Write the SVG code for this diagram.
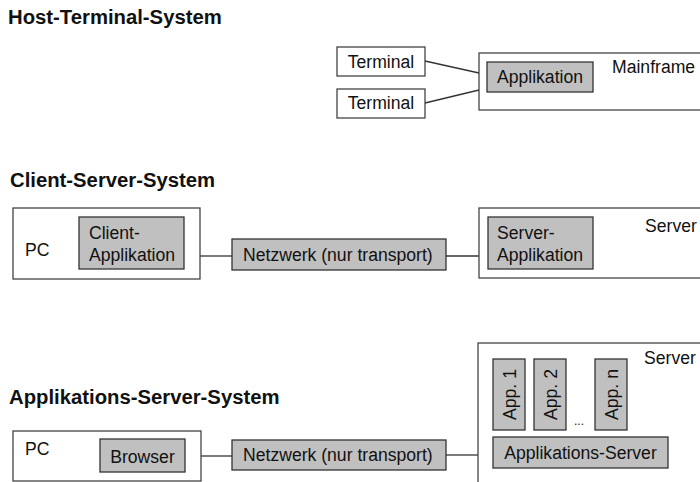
<svg xmlns="http://www.w3.org/2000/svg" width="700" height="482" viewBox="0 0 700 482">
<style>
text{font-family:"Liberation Sans",Arial,sans-serif;font-size:17.6px;fill:#111}
.title{font-weight:bold;font-size:20.3px}
.box{fill:#fff;stroke:#444;stroke-width:1.3}
.gbox{fill:#c0c0c0;stroke:#333;stroke-width:1.3}
.con{stroke:#333;stroke-width:1.3;fill:none}
.mid{text-anchor:middle}
</style>
<rect width="700" height="482" fill="#fff"/>
<text class="title" x="8" y="24">Host-Terminal-System</text>
<text class="title" x="10" y="187">Client-Server-System</text>
<text class="title" x="9" y="404">Applikations-Server-System</text>

<g id="connectors">
<line class="con" x1="425" y1="61" x2="479" y2="73"/>
<line class="con" x1="425" y1="103" x2="479" y2="90"/>
<line class="con" x1="200" y1="256" x2="232" y2="256"/>
<line class="con" x1="446" y1="256" x2="479" y2="256"/>
<line class="con" x1="201" y1="456" x2="232" y2="456"/>
<line class="con" x1="446" y1="455" x2="478" y2="455"/>
</g>

<g id="terminal1"><rect class="box" x="337" y="47" width="88" height="29"/><text class="mid" x="381" y="68">Terminal</text></g>
<g id="terminal2"><rect class="box" x="337" y="89" width="88" height="29"/><text class="mid" x="381" y="109">Terminal</text></g>
<g id="mainframe"><rect class="box" x="479" y="53" width="230" height="57"/><text x="612" y="73">Mainframe</text></g>
<g id="applikation"><rect class="gbox" x="487" y="62" width="106" height="30"/><text class="mid" x="540" y="83">Applikation</text></g>

<g id="pc1"><rect class="box" x="13" y="208" width="187" height="71"/><text x="25" y="256">PC</text></g>
<g id="client-app"><rect class="gbox" x="79" y="217" width="105" height="52"/><text x="89" y="239">Client-</text><text x="89" y="261">Applikation</text></g>
<g id="netzwerk1"><rect class="gbox" x="232" y="239" width="214" height="31"/><text x="243" y="261">Netzwerk (nur transport)</text></g>
<g id="server1"><rect class="box" x="479" y="208" width="230" height="70"/><text x="645" y="232">Server</text></g>
<g id="server-app"><rect class="gbox" x="488" y="217" width="105" height="52"/><text x="497" y="239">Server-</text><text x="497" y="261">Applikation</text></g>

<g id="pc2"><rect class="box" x="13" y="431" width="188" height="50"/><text x="25" y="455">PC</text></g>
<g id="browser"><rect class="gbox" x="100" y="439" width="85" height="33"/><text class="mid" x="142.5" y="463">Browser</text></g>
<g id="netzwerk2"><rect class="gbox" x="232" y="440" width="214" height="30"/><text x="243" y="461">Netzwerk (nur transport)</text></g>
<g id="server2"><rect class="box" x="478" y="343" width="230" height="150"/><text x="644" y="364">Server</text></g>
<g id="app1"><rect class="gbox" x="493" y="359" width="32" height="71"/><text class="mid" transform="translate(515.5,394.5) rotate(-90)">App. 1</text></g>
<g id="app2"><rect class="gbox" x="534" y="359" width="32" height="71"/><text class="mid" transform="translate(556.5,394.5) rotate(-90)">App. 2</text></g>
<g id="dots"><text x="574" y="425" style="font-size:12px">...</text></g>
<g id="appn"><rect class="gbox" x="595" y="359" width="32" height="71"/><text class="mid" transform="translate(617.5,394.5) rotate(-90)">App. n</text></g>
<g id="appserver"><rect class="gbox" x="493" y="437" width="175" height="31"/><text class="mid" x="580.5" y="459">Applikations-Server</text></g>
</svg>
